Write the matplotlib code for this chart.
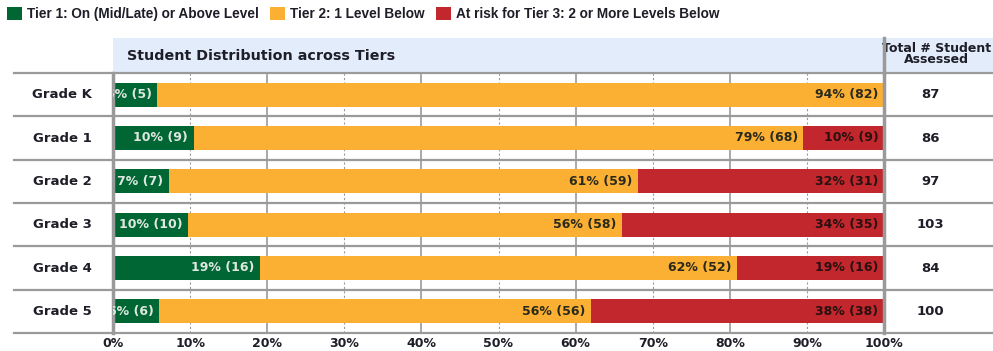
import matplotlib

matplotlib.use("Agg")

import matplotlib.pyplot as plt
from matplotlib.patches import Patch, Rectangle

grades = ["Grade K", "Grade 1", "Grade 2", "Grade 3", "Grade 4", "Grade 5"]
tier1 = [5, 9, 7, 10, 16, 6]
tier2 = [82, 68, 59, 58, 52, 56]
tier3 = [0, 9, 31, 35, 16, 38]
totals = [87, 86, 97, 103, 84, 100]
tier1_pct = [6, 10, 7, 10, 19, 6]
tier2_pct = [94, 79, 61, 56, 62, 56]
tier3_pct = [0, 10, 32, 34, 19, 38]
tick_vals = [0, 10, 20, 30, 40, 50, 60, 70, 80, 90, 100]

legend_names = [
    "Tier 1: On (Mid/Late) or Above Level",
    "Tier 2: 1 Level Below",
    "At risk for Tier 3: 2 or More Levels Below",
]
colors = ["#006633", "#FBB034", "#C1272D"]
label_colors = ["#dfe8e0", "#2a2a1a", "#2a1010"]
text_color = "#1e1e28"
line_gray = "#9a9a9a"

plt.rcParams["font.family"] = ["DejaVu Sans"]
plt.rcParams["font.weight"] = "bold"

fig = plt.figure(figsize=(9.93, 3.51), dpi=100)
ax = fig.add_axes([113 / 993, 18 / 351, 771 / 993, 260 / 351])

y = list(range(len(grades)))
pct1 = [a / t * 100 for a, t in zip(tier1, totals)]
pct2 = [a / t * 100 for a, t in zip(tier2, totals)]
pct3 = [a / t * 100 for a, t in zip(tier3, totals)]
left2 = pct1
left3 = [a + b for a, b in zip(pct1, pct2)]

# grid
for v in tick_vals[1:-1]:
    if v % 20 == 0:
        ax.axvline(v, color=line_gray, lw=1.2, zorder=0)
    else:
        ax.axvline(v, color=line_gray, lw=0.8, ls=(0, (2, 2)), zorder=0)

bar_h = 0.56
segments = [
    (pct1, [0] * len(y), tier1_pct, tier1),
    (pct2, left2, tier2_pct, tier2),
    (pct3, left3, tier3_pct, tier3),
]
for i, (widths, lefts, pcts, counts) in enumerate(segments):
    ax.barh(y, widths, left=lefts, height=bar_h, color=colors[i], zorder=2)
    for yi, w, l, p, c in zip(y, widths, lefts, pcts, counts):
        if c == 0:
            continue
        t = ax.annotate(
            f"{p}% ({c})",
            xy=(l + w, yi),
            xytext=(-4, 0),
            textcoords="offset points",
            ha="right",
            va="center",
            fontsize=9,
            fontweight="bold",
            color=label_colors[i],
            zorder=3,
            annotation_clip=False,
        )
        t.set_clip_path(ax.patch)

ax.set_xlim(0, 100)
ax.set_ylim(len(grades) - 0.5, -0.5)
ax.set_yticks([])
ax.set_xticks(tick_vals)
ax.set_xticklabels([f"{v}%" for v in tick_vals], fontsize=9, fontweight="bold", color=text_color)
ax.tick_params(axis="x", length=0, pad=3)

for side in ["top", "bottom"]:
    ax.spines[side].set_visible(False)
ax.spines["left"].set_color(line_gray)
ax.spines["left"].set_linewidth(2.5)
ax.spines["right"].set_color(line_gray)
ax.spines["right"].set_linewidth(2.5)

yt = ax.get_yaxis_transform()
x_left = -99 / 771
x_right = 880 / 771

# row separators
for b in [r - 0.5 for r in y] + [len(grades) - 0.5]:
    ax.plot([x_left, x_right], [b, b], transform=yt, color=line_gray, lw=1.6,
            clip_on=False, zorder=4)

# header band
head_h = 35 / 260
ax.add_patch(Rectangle((0, 1), x_right, head_h, transform=ax.transAxes,
                       facecolor="#e3ecfb", edgecolor="none", clip_on=False, zorder=1))
ax.plot([1, 1], [1, 1 + head_h], transform=ax.transAxes, color=line_gray, lw=2.5,
        clip_on=False, zorder=4)
ax.text(14 / 771, 1 + head_h / 2, "Student Distribution across Tiers", transform=ax.transAxes,
        ha="left", va="center", fontsize=10.3, fontweight="bold", color=text_color)
ax.text(1.068, 1 + 0.55 * head_h, "Total # Student\nAssessed", transform=ax.transAxes,
        ha="center", va="center", fontsize=9, fontweight="bold", color=text_color,
        linespacing=0.8)

# row labels and totals
for yi, g, t in zip(y, grades, totals):
    ax.text(-51 / 771, yi, g, transform=yt, ha="center", va="center",
            fontsize=9.5, fontweight="bold", color=text_color)
    ax.text(817 / 771, yi, str(t), transform=yt, ha="center", va="center",
            fontsize=9.5, fontweight="bold", color=text_color)

handles = [Patch(facecolor=c, edgecolor="none") for c in colors]
fig.legend(handles, legend_names, loc="upper left", bbox_to_anchor=(0.0, 1.0),
           ncol=3, frameon=False, handlelength=1.1, handleheight=1.1,
           handletextpad=0.35, columnspacing=0.85, borderaxespad=0.0,
           borderpad=0.5, labelcolor=text_color,
           prop={"family": "Liberation Sans", "weight": "bold", "size": 9.8})

fig.savefig("out.png", dpi=100)
